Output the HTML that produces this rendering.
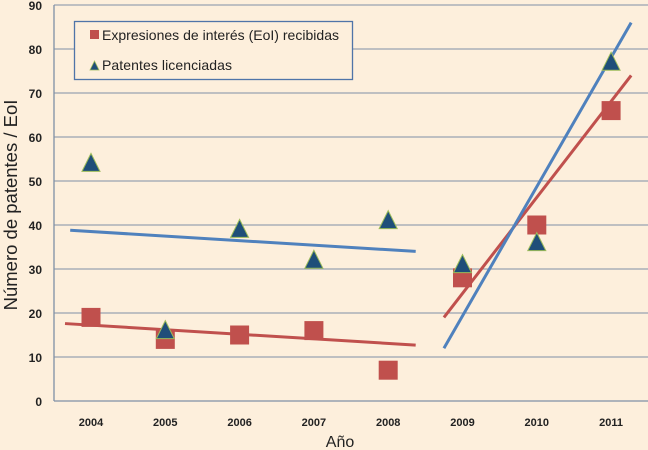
<!DOCTYPE html>
<html><head><meta charset="utf-8"><style>
html,body{margin:0;padding:0;background:#fdefdc;}
svg{display:block;font-family:"Liberation Sans",sans-serif;}
</style></head><body>
<svg width="648" height="450" viewBox="0 0 648 450">
<rect x="0" y="0" width="648" height="450" fill="#fdefdc"/>
<g id="grid"></g><g id="axes"></g><g id="trends"></g><g id="marks"></g>
<text x="340" y="447" font-size="16" text-anchor="middle" fill="#222">Año</text>
<text transform="translate(17,205) rotate(-90)" font-size="18.5" text-anchor="middle" fill="#222">Número de patentes / EoI</text>
<g>
<rect x="74.5" y="21.5" width="278" height="58" fill="#fdefdc" stroke="#4f74a8" stroke-width="1.3"/>
<rect x="90" y="30" width="9" height="9" fill="#c0504d"/>
<text x="102" y="40" font-size="14" textLength="237" fill="#222">Expresiones de interés (EoI) recibidas</text>
<polygon points="90,70 94.5,61 99,70" fill="#1f4e79" stroke="#9bbb59" stroke-width="0.8"/>
<text x="102" y="70" font-size="14" textLength="130" fill="#222">Patentes licenciadas</text>
</g>
</svg>
<script>
const years = ["2004","2005","2006","2007","2008","2009","2010","2011"];
const eoi = [19,14,15,16,7,28,40,66];
const patents = [54,16,39,32,41,31,36,77];
const yTicks = [0,10,20,30,40,50,60,70,80,90];
// trend lines: [startIndex(fractional), startValue, endIndex, endValue]
const trendBlue1 = [-0.28, 38.8, 4.37, 34.0];
const trendRed1 = [-0.35, 17.6, 4.37, 12.7];
const trendBlue2 = [4.75, 12.0, 7.27, 86.0];
const trendRed2 = [4.75, 19.0, 7.27, 74.0];

const NS="http://www.w3.org/2000/svg";
const x0=91, dx=74.3;
const xs=i=>x0+i*dx;
const ys=v=>401-v*4.4;
function mk(tag,attrs,parent){const e=document.createElementNS(NS,tag);for(const k in attrs)e.setAttribute(k,attrs[k]);document.getElementById(parent).appendChild(e);return e;}

yTicks.forEach(t=>{
  if(t>0){const l=mk('line',{x1:54,x2:648,y1:ys(t),y2:ys(t),stroke:'#7f8fa6','stroke-width':1},'grid');
  
  }
  const tx=mk('text',{x:42,y:ys(t)+5,'font-size':12,'font-weight':'bold','text-anchor':'end',fill:'#222'},'axes');
  tx.textContent=t;
  
  
});
const ax=mk('line',{x1:54,x2:54,y1:5,y2:401,stroke:'#7f8fa6','stroke-width':1.3},'axes');


const bx=mk('line',{x1:54,x2:648,y1:401,y2:401,stroke:'#7f8fa6','stroke-width':1.3},'axes');


years.forEach((y,i)=>{
  const tx=mk('text',{x:xs(i),y:426,'font-size':11,'font-weight':'bold','text-anchor':'middle',fill:'#222'},'axes');
  tx.textContent=y;
  
  
});
function trend(t,color,name){
  const l=mk('line',{x1:xs(t[0]),y1:ys(t[1]),x2:xs(t[2]),y2:ys(t[3]),stroke:color,'stroke-width':3},'trends');
  
  
}
eoi.forEach((v,i)=>{
  const r=mk('rect',{x:xs(i)-9.5,y:ys(v)-9.5,width:19,height:19,fill:'#c0504d'},'marks');
  
  
});
patents.forEach((v,i)=>{
  const cx=xs(i),cy=ys(v);
  const p=mk('polygon',{points:`${cx-9},${cy+8} ${cx},${cy-10} ${cx+9},${cy+8}`,fill:'#1f4e79',stroke:'#9bbb59','stroke-width':1},'marks');
  
  
});
trend(trendRed1,'#c0504d','trend-eoi-2004-2008');
trend(trendBlue1,'#4f81bd','trend-patents-2004-2008');
trend(trendRed2,'#c0504d','trend-eoi-2009-2011');
trend(trendBlue2,'#4f81bd','trend-patents-2009-2011');
</script>
</body></html>
